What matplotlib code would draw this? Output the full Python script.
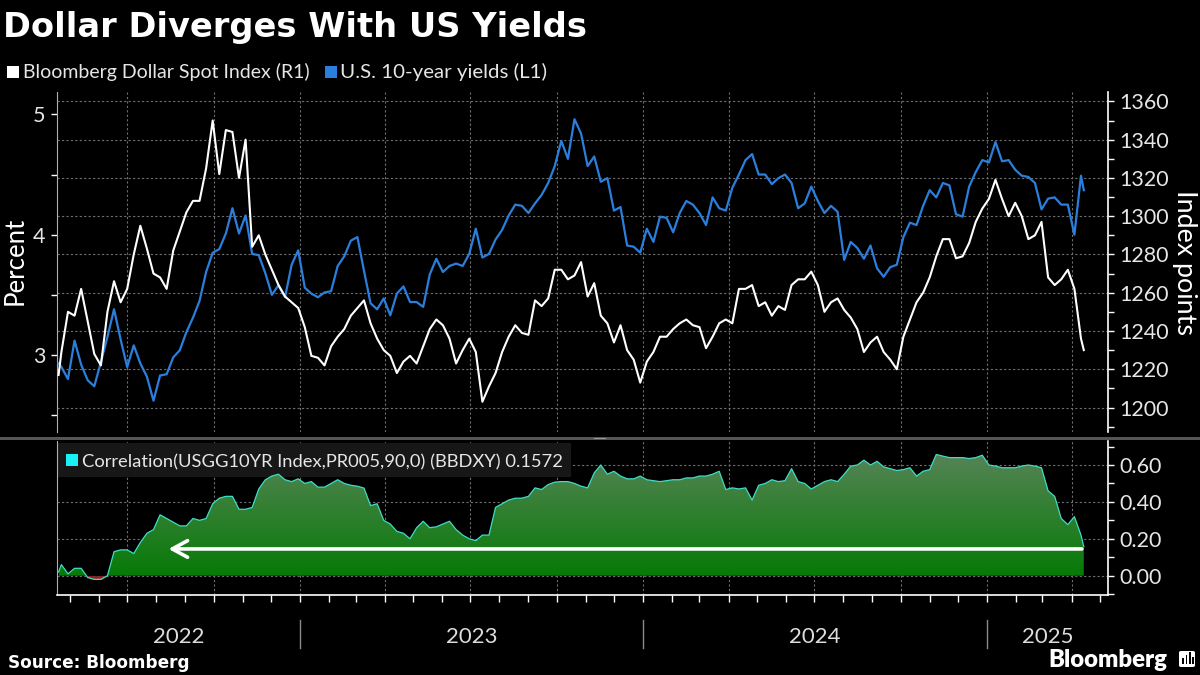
import numpy as np
import pandas as pd
import matplotlib
matplotlib.use("Agg")
import matplotlib.pyplot as plt
import matplotlib.dates as mdates
from matplotlib.patches import Rectangle, FancyBboxPatch, PathPatch
from matplotlib.path import Path
from matplotlib.transforms import blended_transform_factory

# ---------------- data (weekly readings) ----------------
yields_2022 = [2.93, 2.90, 2.80, 3.12, 2.92, 2.79, 2.74, 2.94, 3.15, 3.38, 3.13, 2.90, 3.08, 2.93,
               2.82, 2.62, 2.83, 2.84, 2.98, 3.04, 3.19, 3.31, 3.45, 3.69, 3.85, 3.88, 4.01, 4.22,
               4.01, 4.16, 3.84, 3.83, 3.68, 3.50, 3.58, 3.48, 3.75, 3.87]
yields_2023 = [3.56, 3.51, 3.48, 3.52, 3.53, 3.74, 3.82, 3.95, 3.98, 3.70, 3.43, 3.38, 3.47, 3.33,
               3.51, 3.57, 3.44, 3.44, 3.40, 3.67, 3.80, 3.69, 3.74, 3.76, 3.74, 3.84, 4.05, 3.81,
               3.84, 3.96, 4.04, 4.16, 4.25, 4.24, 4.18, 4.26, 4.33, 4.43, 4.57, 4.78, 4.63, 4.96,
               4.84, 4.57, 4.65, 4.44, 4.47, 4.20, 4.23, 3.91, 3.90, 3.85]
yields_2024 = [4.05, 3.94, 4.15, 4.14, 4.02, 4.18, 4.28, 4.25, 4.18, 4.08, 4.31, 4.22, 4.20, 4.39,
               4.50, 4.62, 4.67, 4.50, 4.50, 4.42, 4.47, 4.50, 4.43, 4.22, 4.26, 4.40, 4.28, 4.18,
               4.24, 4.19, 3.79, 3.94, 3.89, 3.80, 3.91, 3.72, 3.65, 3.73, 3.75, 3.98, 4.10, 4.08,
               4.24, 4.37, 4.31, 4.43, 4.41, 4.17, 4.15, 4.40, 4.52, 4.62]
yields_2025 = [4.60, 4.77, 4.61, 4.62, 4.54, 4.49, 4.48, 4.43, 4.21, 4.30, 4.31, 4.25, 4.25, 4.00,
               4.49, 4.37]

dollar_2022 = [1217, 1229, 1250, 1248, 1262, 1245, 1228, 1222, 1250, 1266, 1255, 1262, 1280, 1295,
               1283, 1270, 1268, 1262, 1282, 1292, 1302, 1308, 1308, 1325, 1350, 1322, 1345, 1344,
               1320, 1340, 1284, 1290, 1280, 1272, 1264, 1258, 1255, 1252]
dollar_2023 = [1242, 1227, 1226, 1222, 1232, 1237, 1241, 1248, 1252, 1256, 1244, 1236, 1230, 1227,
               1218, 1224, 1227, 1223, 1232, 1241, 1246, 1243, 1236, 1223, 1230, 1236, 1229, 1203,
               1211, 1218, 1229, 1237, 1243, 1239, 1238, 1256, 1253, 1257, 1272, 1272, 1267, 1269,
               1276, 1258, 1265, 1248, 1244, 1234, 1243, 1230, 1225, 1213]
dollar_2024 = [1224, 1229, 1237, 1237, 1241, 1244, 1246, 1243, 1242, 1231, 1237, 1244, 1246, 1244,
               1262, 1262, 1264, 1253, 1255, 1248, 1253, 1251, 1264, 1267, 1267, 1271, 1264, 1250,
               1255, 1257, 1251, 1247, 1241, 1229, 1234, 1237, 1229, 1225, 1220, 1237, 1246, 1255,
               1260, 1268, 1279, 1288, 1288, 1278, 1279, 1286, 1297, 1304]
dollar_2025 = [1309, 1319, 1309, 1300, 1307, 1300, 1288, 1290, 1297, 1268, 1264, 1267, 1272, 1262,
               1236, 1230]

corr_2022 = [0.02, 0.06, 0.01, 0.04, 0.04, -0.01, -0.02, -0.02, 0.00, 0.13, 0.14, 0.14, 0.12, 0.18,
             0.23, 0.25, 0.33, 0.31, 0.29, 0.27, 0.27, 0.31, 0.30, 0.31, 0.39, 0.42, 0.43, 0.43,
             0.36, 0.36, 0.37, 0.47, 0.52, 0.54, 0.55, 0.52, 0.51, 0.525]
corr_2023 = [0.50, 0.51, 0.48, 0.48, 0.50, 0.52, 0.50, 0.49, 0.485, 0.475, 0.38, 0.39, 0.30, 0.28,
             0.24, 0.23, 0.20, 0.26, 0.295, 0.26, 0.265, 0.28, 0.295, 0.25, 0.22, 0.20, 0.19, 0.22,
             0.22, 0.37, 0.39, 0.41, 0.42, 0.42, 0.43, 0.476, 0.467, 0.494, 0.507, 0.51, 0.51, 0.50,
             0.485, 0.476, 0.557, 0.60, 0.55, 0.566, 0.54, 0.525, 0.525, 0.54]
corr_2024 = [0.52, 0.515, 0.51, 0.515, 0.52, 0.52, 0.53, 0.53, 0.54, 0.54, 0.55, 0.566, 0.467, 0.476,
             0.47, 0.476, 0.41, 0.49, 0.50, 0.52, 0.51, 0.515, 0.58, 0.51, 0.50, 0.47, 0.49, 0.51,
             0.52, 0.51, 0.55, 0.594, 0.60, 0.626, 0.60, 0.62, 0.59, 0.58, 0.57, 0.575, 0.585, 0.54,
             0.566, 0.575, 0.657, 0.648, 0.64, 0.64, 0.64, 0.635, 0.64, 0.653]
corr_2025 = [0.60, 0.594, 0.585, 0.585, 0.585, 0.594, 0.60, 0.594, 0.585, 0.46, 0.43, 0.31, 0.277,
             0.32, 0.22, 0.1572]

dates_2022 = pd.DatetimeIndex(["2022-04-19"]).append(pd.date_range("2022-04-22", "2022-12-30", freq="W-FRI"))
dates_2023 = pd.date_range("2023-01-06", "2023-12-29", freq="W-FRI")
dates_2024 = pd.date_range("2024-01-05", "2024-12-27", freq="W-FRI")
dates_2025 = pd.date_range("2025-01-03", "2025-04-11", freq="W-FRI").append(pd.DatetimeIndex(["2025-04-14"]))

year_labels = ["2022", "2023", "2024", "2025"]
title = "Dollar Diverges With US Yields"
legend_dollar = "Bloomberg Dollar Spot Index (R1)"
legend_yield = "U.S. 10-year yields (L1)"
legend_corr = "Correlation(USGG10YR Index,PR005,90,0) (BBDXY) 0.1572"

dates = dates_2022.append([dates_2023, dates_2024, dates_2025])
yields = np.array(yields_2022 + yields_2023 + yields_2024 + yields_2025)
dollar = np.array(dollar_2022 + dollar_2023 + dollar_2024 + dollar_2025, dtype=float)
corr = np.array(corr_2022 + corr_2023 + corr_2024 + corr_2025)
n = min(len(dates), len(yields), len(dollar), len(corr))
dates, yields, dollar, corr = dates[:n], yields[:n], dollar[:n], corr[:n]

# ---------------- figure ----------------
W, H = 1200, 675
FONT = ["Lato", "DejaVu Sans"]
plt.rcParams["font.family"] = FONT
fig = plt.figure(figsize=(12, 6.75), dpi=100, facecolor="black")

def fx(x):
    return x / W

def fy(y):
    return 1 - y / H

L, R = 56.7, 1108.0
ax_t = fig.add_axes([fx(L), fy(432), (R - L) / W, 340 / H])
ax_b = fig.add_axes([fx(L), fy(595), (R - L) / W, 154 / H])
for a in (ax_t, ax_b):
    a.set_facecolor("black")

xlim = (pd.Timestamp("2022-04-17"), pd.Timestamp("2025-05-09 18:00"))
YL = (2.360, 5.186)
YR = (1187.2, 1364.9)
YB = (-0.1046, 0.730)

TXT = "#e6e6e6"
GRID = dict(color="#6e6e6e", lw=0.8, ls=(0, (2, 2)), zorder=0.5)
BLUE = "#2b7fdc"

# ---- top panel ----
ax_r = ax_t.twinx()
ax_t.set_xlim(*xlim)
ax_r.set_xlim(*xlim)
ax_t.set_ylim(*YL)
ax_r.set_ylim(*YR)

quarters = pd.date_range("2022-07-01", "2025-04-01", freq="QS")
for q in quarters:
    ax_t.axvline(q, **GRID)
    ax_b.axvline(q, **GRID)
for rv in range(1200, 1361, 20):
    lv = YL[0] + (rv - YR[0]) * (YL[1] - YL[0]) / (YR[1] - YR[0])
    ax_t.axhline(lv, **GRID)
for bv in [0.0, 0.2, 0.4, 0.6]:
    ax_b.axhline(bv, **GRID)

ax_t.plot(dates, yields, color=BLUE, lw=1.6, zorder=3)
ax_r.plot(dates, dollar, color="white", lw=1.5, zorder=3)

ax_t.set_yticks([3, 4, 5])
ax_t.set_yticks([2.5, 3.5, 4.5], minor=True)
ax_r.set_yticks(list(range(1200, 1361, 20)))
ax_r.set_yticks(list(range(1190, 1361, 10)), minor=True)
ax_t.set_xticks([])
ax_r.set_xticks([])
for a in (ax_t, ax_r):
    a.tick_params(axis="y", which="both", direction="out", length=4, width=1,
                  color="white", labelcolor=TXT, labelsize=15.5, pad=4)
for s in ["top", "bottom", "right"]:
    ax_t.spines[s].set_visible(False)
for s in ["top", "bottom", "left"]:
    ax_r.spines[s].set_visible(False)
ax_t.spines["left"].set_color("#b0b0b0")
ax_r.spines["right"].set_color("white")
ax_r.spines["right"].set_linewidth(1.2)

# ---- bottom panel ----
ax_b.set_xlim(*xlim)
ax_b.set_ylim(*YB)
xs = mdates.date2num(dates)
pos = ax_b.fill_between(dates, 0, corr, where=corr >= 0, interpolate=True,
                        facecolor="none", edgecolor="none")
cpath = Path.make_compound_path(*pos.get_paths())
clip = PathPatch(cpath, transform=ax_b.transData, facecolor="none", edgecolor="none")
ax_b.add_patch(clip)
g = np.linspace(0, 1, 256).reshape(-1, 1, 1)
c0 = np.array([6, 122, 6]) / 255.0
c1 = np.array([86, 132, 86]) / 255.0
img = c0 + (c1 - c0) * g
im = ax_b.imshow(img, extent=[xs[0], xs[-1], 0, 0.66], origin="lower", aspect="auto",
                 interpolation="bilinear", zorder=1)
im.set_clip_path(clip)
ax_b.fill_between(dates, 0, corr, where=corr < 0, interpolate=True, color="#9a1c1c",
                  lw=0, zorder=1)
ax_b.plot(dates, corr, color="#3fdcc8", lw=0.9, zorder=3)
ax_b.set_xlim(*xlim)
ax_b.set_ylim(*YB)

ax_b.annotate("", xy=(pd.Timestamp("2022-08-14"), 0.145),
              xytext=(pd.Timestamp("2025-04-12"), 0.145),
              arrowprops=dict(arrowstyle="->,head_length=0.55,head_width=0.3", lw=2.6,
                              color="white", mutation_scale=20, shrinkA=0, shrinkB=0),
              zorder=5)

ax_b.yaxis.tick_right()
ax_b.set_yticks([0.0, 0.2, 0.4, 0.6])
ax_b.set_yticks([-0.1, 0.1, 0.3, 0.5, 0.7], minor=True)
ax_b.yaxis.set_major_formatter(matplotlib.ticker.FormatStrFormatter("%.2f"))
ax_b.tick_params(axis="y", which="both", direction="out", length=4, width=1, color="white",
                 labelcolor=TXT, labelsize=15.5, pad=4)
ax_b.xaxis.set_major_locator(mdates.MonthLocator())
ax_b.tick_params(axis="x", which="major", direction="out", length=5, width=1, color="white",
                 labelbottom=False)
ax_b.spines["top"].set_visible(False)
ax_b.spines["left"].set_color("#b0b0b0")
ax_b.spines["right"].set_color("white")
ax_b.spines["right"].set_linewidth(1.2)
ax_b.spines["bottom"].set_color("white")
ax_b.spines["bottom"].set_linewidth(1.2)

# legend box inside bottom panel
ax_b.add_artist(Rectangle((fx(L + 1), fy(477)), (570 - L) / W, 34 / H, transform=fig.transFigure,
                          facecolor="#171717", edgecolor="none", zorder=0.8))

# year labels and separators
tb = blended_transform_factory(ax_b.transData, fig.transFigure)
x0n, x1n = mdates.date2num(xlim[0]), mdates.date2num(xlim[1])
yb = [mdates.date2num(pd.Timestamp(f"{y}-01-01")) for y in (2023, 2024, 2025)]
centers = [(x0n + yb[0]) / 2, (yb[0] + yb[1]) / 2, (yb[1] + yb[2]) / 2, (yb[2] + x1n) / 2]
for c, lab in zip(centers, year_labels):
    fig.text(c, fy(643), lab, transform=tb, ha="center", va="baseline", color="#dddddd",
             fontsize=16)
for b in yb:
    fig.add_artist(matplotlib.lines.Line2D([b, b], [fy(620), fy(648)], transform=tb,
                                           color="#8a8a8a", lw=1))

# separator band between panels
fig.add_artist(Rectangle((0, fy(439.5)), 1, 3 / H, transform=fig.transFigure,
                         facecolor="#555555", edgecolor="none"))
fig.add_artist(Rectangle((fx(594), fy(438.5)), 12 / W, 1 / H, transform=fig.transFigure,
                         facecolor="#9a9a9a", edgecolor="none"))

# ---------------- text ----------------
renderer = fig.canvas.get_renderer()

def fit(t, target, dim="w"):
    bb = t.get_window_extent(renderer)
    cur = bb.width if dim == "w" else bb.height
    t.set_fontsize(t.get_fontsize() * target / cur)

t_title = fig.text(fx(3), fy(37), title, ha="left", va="baseline", color="white",
                   fontsize=24, fontweight="bold", family=["DejaVu Sans"])
fit(t_title, 582)

fig.add_artist(Rectangle((fx(7), fy(78)), 12 / W, 12 / H, transform=fig.transFigure,
                         facecolor="white", edgecolor="none"))
t1 = fig.text(fx(23), fy(78), legend_dollar, ha="left", va="baseline", color=TXT, fontsize=13)
fit(t1, 285)
fig.add_artist(Rectangle((fx(325), fy(78)), 12 / W, 12 / H, transform=fig.transFigure,
                         facecolor=BLUE, edgecolor="none"))
t2 = fig.text(fx(340), fy(78), legend_yield, ha="left", va="baseline", color=TXT, fontsize=13)
fit(t2, 206)

fig.add_artist(Rectangle((fx(66), fy(466)), 12 / W, 12 / H, transform=fig.transFigure,
                         facecolor="#19f2f2", edgecolor="none", zorder=3))
t3 = fig.text(fx(82), fy(467), legend_corr, ha="left", va="baseline", color=TXT, fontsize=13,
              zorder=3)
fit(t3, 480)

tp = fig.text(fx(15), fy(261), "Percent", rotation=90, ha="center", va="center", color="white",
              fontsize=17)
fit(tp, 88, "h")
ti = fig.text(fx(1185), fy(262), "Index points", rotation=270, ha="center", va="center",
              color="white", fontsize=17)
fit(ti, 145, "h")

ts = fig.text(fx(8), fy(668), "Source: Bloomberg", ha="left", va="baseline", color="white",
              fontsize=12, fontweight="bold", family=["DejaVu Sans"])
fit(ts, 182)
tl = fig.text(fx(1048), fy(667), "Bloomberg", ha="left", va="baseline", color="white",
              fontsize=17, fontweight="heavy")
fit(tl, 119)

# small logo icon
fig.add_artist(FancyBboxPatch((fx(1179), fy(667)), 16 / W, 16 / H,
                              boxstyle="round,pad=0,rounding_size=0.002",
                              transform=fig.transFigure, facecolor="white", edgecolor="none"))
for bx, bh in [(1182, 6), (1185.5, 9), (1189, 12), (1192, 7)]:
    fig.add_artist(Rectangle((fx(bx), fy(664)), 1.8 / W, bh / H, transform=fig.transFigure,
                             facecolor="black", edgecolor="none"))

fig.savefig("out.png", dpi=100, facecolor="black")
